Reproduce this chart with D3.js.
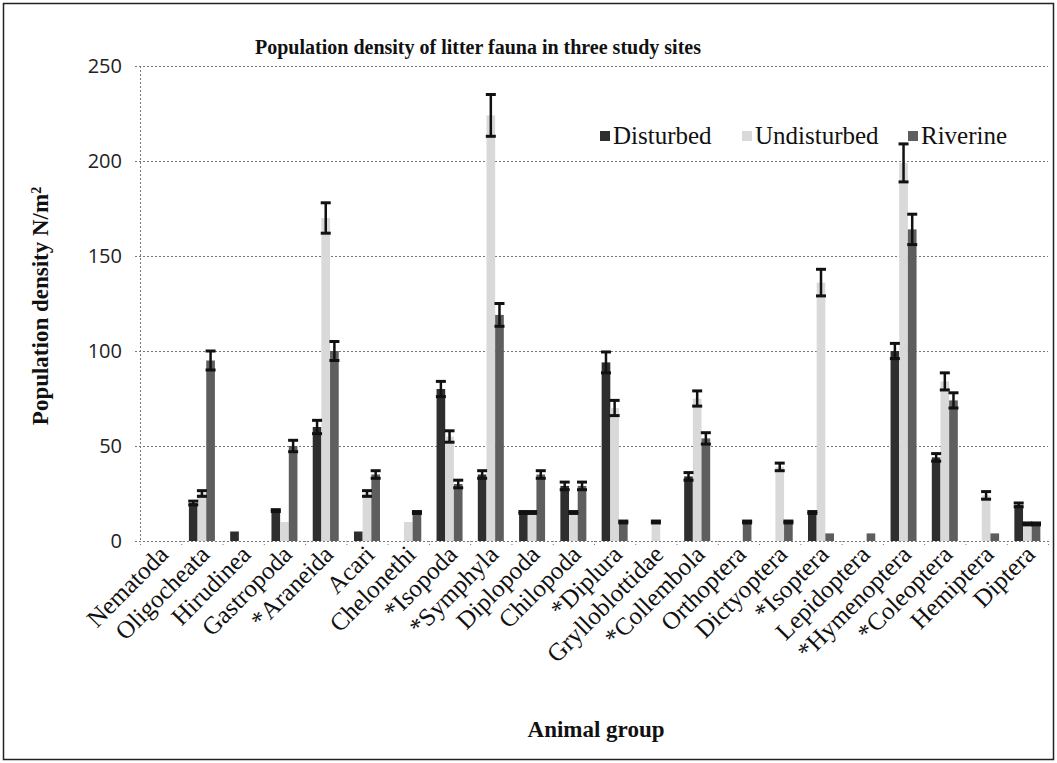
<!DOCTYPE html>
<html>
<head>
<meta charset="utf-8">
<script src="https://cdn.jsdelivr.net/npm/d3@7"></script>
<style>
  body { margin: 0; background: #fff; }
</style>
</head>
<body>
<div id="chart"></div>
<script>
    // Data
    groups = ["Nematoda", "Oligocheata", "Hirudinea", "Gastropoda", "*Araneida", "Acari", "Chelonethi",
        "*Isopoda", "*Symphyla", "Diplopoda", "Chilopoda", "*Diplura", "Grylloblottidae", "*Collembola",
        "Orthoptera", "Dictyoptera", "*Isoptera", "Lepidoptera", "*Hymenoptera", "*Coleoptera", "Hemiptera", "Diptera"]
    sites = ["Disturbed", "Undisturbed", "Riverine"]

    disturbed   = [0, 20, 5, 16, 60, 5, 0, 80, 35, 15, 29, 94, 0, 34, 0, 0, 15, 0, 100, 44, 0, 19]
    undisturbed = [0, 25, 0, 10, 170, 25, 10, 55, 224, 15, 15, 70, 10, 75, 0, 39, 136, 0, 199, 84, 24, 9]
    riverine    = [0, 95, 0, 50, 100, 35, 15, 30, 119, 35, 29, 10, 0, 54, 10, 10, 4, 4, 164, 74, 4, 9]

    disturbed_err   = [0, 1, 0, 0.5, 3.5, 0, 0, 4, 2, 0.5, 2, 5.5, 0, 2, 0, 0, 0.5, 0, 4, 2, 0, 1]
    undisturbed_err = [0, 1.5, 0, 0, 8, 1.5, 0, 3, 11, 0.5, 0.5, 4, 0.5, 4, 0, 2, 7, 0, 10, 4.5, 2, 0.5]
    riverine_err    = [0, 5, 0, 3, 5, 2, 0.5, 2, 6, 2, 2, 0.5, 0, 3, 0.5, 0.5, 0, 0, 8, 4, 0, 0.5]

    yTicks = [0, 50, 100, 150, 200, 250]

    values = [disturbed, undisturbed, riverine]
    errors = [disturbed_err, undisturbed_err, riverine_err]
    colors = ["#2e2e2e", "#d9d9d9", "#5e5e5e"]

    canvas = ({width: 1057, height: 763})
    plot = ({left: 140, right: 1048, top: 66, bottom: 541})

    data = []
    groups.forEach((g, i) => sites.forEach((s, j) => {
        data.push({group: g, site: s, value: values[j][i], err: errors[j][i]})
    }))

    // Scales
    x = d3.scaleBand()
        .domain(groups)
        .range([plot.left, plot.right])
        .paddingInner(0.37)
        .paddingOuter(0.185)

    xs = d3.scaleBand()
        .domain(sites)
        .range([0, x.bandwidth()])

    y = d3.scaleLinear()
        .domain([0, 250])
        .range([plot.bottom, plot.top])

    color = d3.scaleOrdinal().domain(sites).range(colors)

    var svg = d3.select("#chart").append("svg")
        .attr("width", canvas.width)
        .attr("height", canvas.height)
        .attr("viewBox", [0, 0, canvas.width, canvas.height])

    // outer frame
    svg.append("rect")
        .attr("x", 3.5).attr("y", 3.5)
        .attr("width", canvas.width - 7).attr("height", canvas.height - 7)
        .attr("fill", "none")
        .attr("stroke", "#222")
        .attr("stroke-width", 1.5)

    // grid
    svg.append("g")
        .selectAll("line")
        .data(yTicks)
        .join("line")
        .attr("x1", plot.left - 5)
        .attr("x2", plot.right)
        .attr("y1", d => y(d) + 0.5)
        .attr("y2", d => y(d) + 0.5)
        .attr("stroke", "#777")
        .attr("stroke-width", 1)
        .attr("stroke-dasharray", "2,2")

    // y axis line
    svg.append("line")
        .attr("x1", plot.left + 0.5).attr("x2", plot.left + 0.5)
        .attr("y1", y(250)).attr("y2", y(0))
        .attr("stroke", "#777")
        .attr("stroke-dasharray", "2,2")

    // y tick labels
    svg.append("g")
        .selectAll("text")
        .data(yTicks)
        .join("text")
        .attr("x", 122)
        .attr("y", d => y(d))
        .attr("dy", "0.36em")
        .attr("text-anchor", "end")
        .attr("font-family", "'Open Sans', sans-serif")
        .attr("font-size", 20)
        .attr("fill", "#222")
        .text(d => d)

    // x ticks at group boundaries
    xTickPos = groups.map(g => x(g) - x.step() * x.paddingInner() / 2).concat([plot.right])
    svg.append("g")
        .selectAll("line")
        .data(xTickPos)
        .join("line")
        .attr("x1", d => d + 0.5).attr("x2", d => d + 0.5)
        .attr("y1", y(0)).attr("y2", y(0) + 6)
        .attr("stroke", "#777")
        .attr("stroke-dasharray", "1,2")

    // bars
    svg.append("g")
        .selectAll("rect")
        .data(data.filter(d => d.value > 0))
        .join("rect")
        .attr("x", d => x(d.group) + xs(d.site))
        .attr("y", d => y(d.value))
        .attr("width", xs.bandwidth())
        .attr("height", d => y(0) - y(d.value))
        .attr("fill", d => color(d.site))

    // error bars
    eb = svg.append("g")
        .attr("stroke", "#111")
        .selectAll("g")
        .data(data.filter(d => d.value > 0 && d.err > 0))
        .join("g")
        .attr("transform", d => `translate(${x(d.group) + xs(d.site) + xs.bandwidth() / 2},0)`)

    eb.append("line")
        .attr("y1", d => y(d.value + d.err))
        .attr("y2", d => y(d.value - d.err))
        .attr("stroke-width", 2.5)

    eb.append("line")
        .attr("x1", -5).attr("x2", 5)
        .attr("y1", d => y(d.value + d.err))
        .attr("y2", d => y(d.value + d.err))
        .attr("stroke-width", 3)

    eb.append("line")
        .attr("x1", -5).attr("x2", 5)
        .attr("y1", d => y(d.value - d.err))
        .attr("y2", d => y(d.value - d.err))
        .attr("stroke-width", 3)

    // x labels
    svg.append("g")
        .selectAll("text")
        .data(groups)
        .join("text")
        .attr("transform", g => `translate(${x(g) + x.bandwidth() / 2 + 9},${y(0) + 15}) rotate(-45)`)
        .attr("text-anchor", "end")
        .attr("font-family", "'Liberation Serif', 'Times New Roman', serif")
        .attr("font-size", 25)
        .attr("fill", "#111")
        .text(g => g)

    // titles
    svg.append("text")
        .attr("x", 478).attr("y", 54)
        .attr("text-anchor", "middle")
        .attr("font-family", "'Liberation Serif', 'Times New Roman', serif")
        .attr("font-weight", "bold")
        .attr("font-size", 20)
        .attr("fill", "#111")
        .text("Population density of litter fauna in three study sites")

    svg.append("text")
        .attr("x", 596).attr("y", 737)
        .attr("text-anchor", "middle")
        .attr("font-family", "'Liberation Serif', 'Times New Roman', serif")
        .attr("font-weight", "bold")
        .attr("font-size", 23)
        .attr("fill", "#111")
        .text("Animal group")

    yTitle = svg.append("text")
        .attr("transform", "translate(48,306) rotate(-90)")
        .attr("text-anchor", "middle")
        .attr("font-family", "'Liberation Serif', 'Times New Roman', serif")
        .attr("font-weight", "bold")
        .attr("font-size", 23)
        .attr("fill", "#111")
    yTitle.append("tspan").text("Population density N/m")
    yTitle.append("tspan").attr("dy", "-0.5em").attr("font-size", 14).text("2")

    // legend
    legendX = [600, 742, 908]
    lg = svg.append("g")
        .selectAll("g")
        .data(sites)
        .join("g")
        .attr("transform", (d, i) => `translate(${legendX[i]},136)`)

    lg.append("rect")
        .attr("x", 0).attr("y", -5)
        .attr("width", 10).attr("height", 10)
        .attr("fill", d => color(d))

    lg.append("text")
        .attr("x", 13).attr("y", 0)
        .attr("dy", "0.33em")
        .attr("font-family", "'Liberation Serif', 'Times New Roman', serif")
        .attr("font-size", 25)
        .attr("fill", "#111")
        .text(d => d)
</script>
</body>
</html>
